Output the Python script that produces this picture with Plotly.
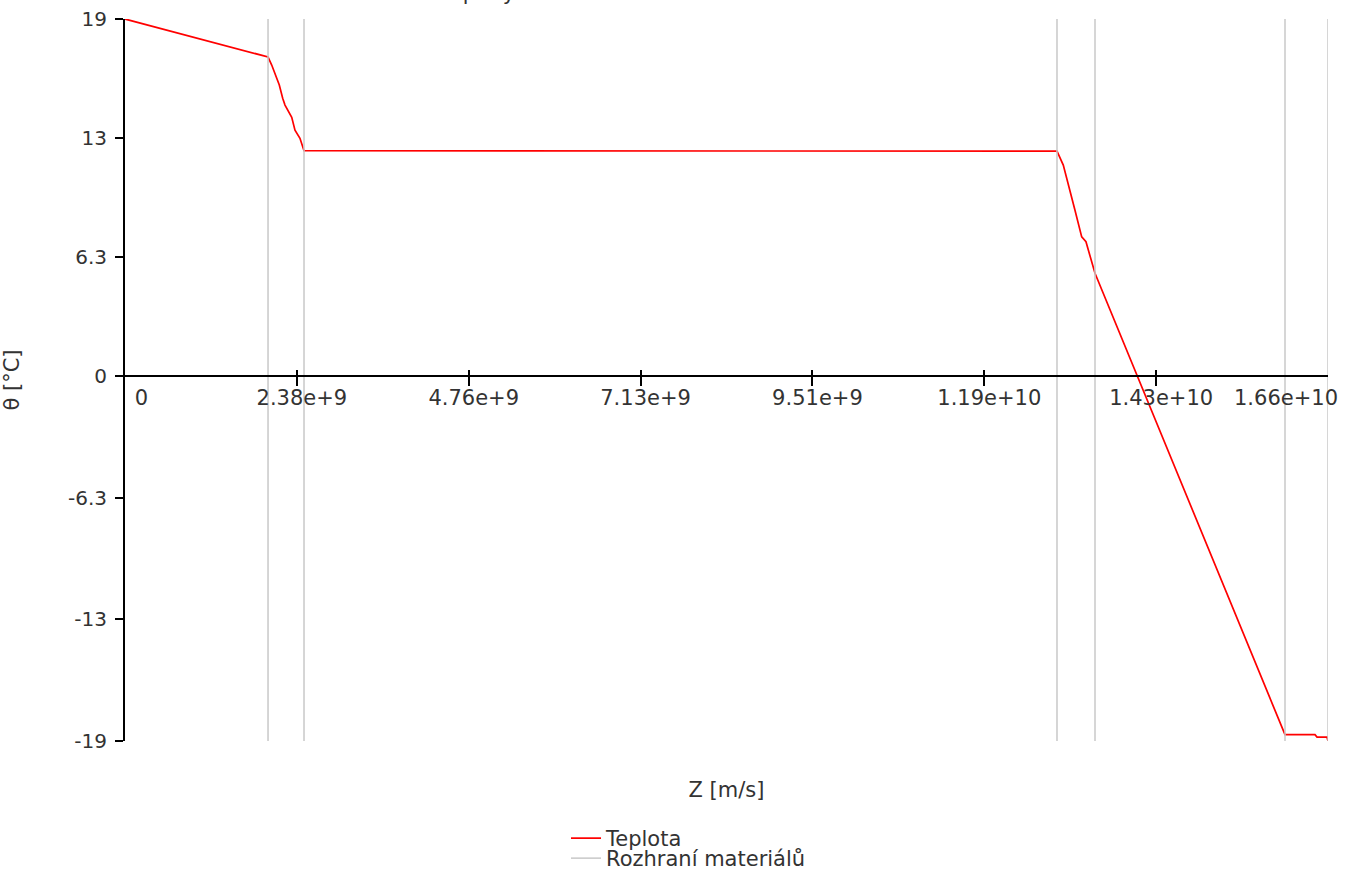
import plotly.graph_objects as go

# ---- data ----
z_temp = [0.0, 1.979e9, 2.030e9, 2.135e9, 2.182e9, 2.214e9, 2.307e9, 2.352e9, 2.421e9, 2.477e9,
          1.2896e10, 1.2983e10, 1.3145e10, 1.3238e10, 1.3297e10, 1.3422e10,
          1.6051e10, 1.6466e10, 1.6494e10, 1.6632e10, 1.6646e10]
theta = [19.0, 16.98, 16.55, 15.49, 14.78, 14.42, 13.77, 13.09, 12.65, 11.99,
         11.97, 11.23, 8.83, 7.41, 7.15, 5.47,
         -19.07, -19.07, -19.20, -19.20, -19.41]

interfaces = [1.979e9, 2.477e9, 1.2896e10, 1.3422e10, 1.6051e10, 1.6646e10]

x_max = 1.6646e10
y_min, y_max = -19.41, 19.0

x_tickvals = [x_max * k / 7 for k in range(8)]
x_ticktext = ["0", "2.38e+9", "4.76e+9", "7.13e+9", "9.51e+9", "1.19e+10", "1.43e+10", "1.66e+10"]

y_tickvals = [y_min * 0.99999, y_min * 2 / 3, y_min / 3, 0, y_max / 3, y_max * 2 / 3, y_max * 0.99999]
y_ticktext = ["-19", "-13", "-6.3", "0", "6.3", "13", "19"]

title_text = "Průběh teploty v konstrukci"
x_title = "Z [m/s]"
y_title = "θ [°C]"

FONT = "DejaVu Sans"
TXT = "#333333"
FS = 21

# interface lines as one trace
ix, iy = [], []
for v in interfaces:
    ix += [v, v, None]
    iy += [y_max, y_min, None]

fig = go.Figure()
fig.add_trace(go.Scatter(x=z_temp, y=theta, mode="lines", name="Teplota",
                         line=dict(color="red", width=1.7), legend="legend"))
fig.add_trace(go.Scatter(x=ix, y=iy, mode="lines", name="Rozhraní materiálů",
                         line=dict(color="#c8c8c8", width=1.5), legend="legend2"))
# helper empty traces to materialise overlay axes
for ax in ["x2", "x3", "x4"]:
    fig.add_trace(go.Scatter(x=[None], y=[None], xaxis=ax, yaxis="y", showlegend=False,
                             hoverinfo="skip"))

zero_pos = (0 - y_min) / (y_max - y_min)
common_x = dict(range=[0, x_max], showgrid=False, zeroline=False, fixedrange=True,
                automargin=False, tickangle=0)
tf = dict(family=FONT, size=FS, color=TXT)

fig.update_layout(
    width=1354, height=874,
    paper_bgcolor="white", plot_bgcolor="white",
    margin=dict(l=125, r=26, t=19, b=133),
    font=dict(family=FONT, size=FS, color=TXT),
    title=dict(text=title_text, x=361 / 1354, xanchor="left", xref="container",
               y=1.0, yanchor="bottom", yref="container", pad=dict(b=0),
               font=dict(family=FONT, size=21, color=TXT)),
    xaxis=dict(**common_x, anchor="free", position=zero_pos,
               showline=True, linecolor="black", linewidth=2,
               ticks="outside", ticklen=9, tickwidth=1.5, tickcolor="black",
               tickmode="array", tickvals=x_tickvals[1:-1], ticktext=x_ticktext[1:-1],
               ticklabelshift=5, ticklabelstandoff=-6, tickfont=tf),
    xaxis2=dict(**common_x, overlaying="x", anchor="free", position=zero_pos,
                showline=False, ticks="inside", ticklen=6, tickwidth=1.5, tickcolor="black",
                tickmode="array", tickvals=x_tickvals, ticktext=[x_ticktext[0]] + [""] * 7,
                ticklabelposition="outside right", ticklabelshift=9, ticklabelstandoff=7,
                tickfont=tf),
    xaxis3=dict(**common_x, overlaying="x", anchor="free", position=zero_pos,
                showline=False, ticks="",
                tickmode="array", tickvals=[x_tickvals[-1]], ticktext=[x_ticktext[-1]],
                ticklabelposition="outside left", ticklabelshift=10, ticklabelstandoff=7,
                tickfont=tf),
    xaxis4=dict(**common_x, overlaying="x", anchor="y", side="bottom",
                showline=False, ticks="", showticklabels=False,
                title=dict(text=x_title, standoff=41, font=tf)),
    yaxis=dict(range=[y_min, y_max], showgrid=False, zeroline=False, fixedrange=True,
               showline=True, linecolor="black", linewidth=2,
               ticks="outside", ticklen=8, tickwidth=1.5, tickcolor="black",
               tickmode="array", tickvals=y_tickvals, ticktext=y_ticktext,
               ticklabelstandoff=4, ticklabeloverflow="allow",
               tickfont=dict(family=FONT, size=20, color=TXT),
               automargin=False,
               title=dict(text=y_title, standoff=48, font=tf)),
    legend=dict(orientation="h", xref="container", x=566 / 1354, xanchor="left",
                yref="container", y=0.0641, yanchor="top", itemwidth=30,
                font=tf, bgcolor="rgba(0,0,0,0)"),
    legend2=dict(orientation="h", xref="container", x=566 / 1354, xanchor="left",
                 yref="container", y=0.0412, yanchor="top", itemwidth=30,
                 font=tf, bgcolor="rgba(0,0,0,0)"),
    showlegend=True,
)

fig.write_html("out.html", config={"displayModeBar": False},
               post_script="document.body.style.margin='0';document.body.style.overflow='hidden';")
